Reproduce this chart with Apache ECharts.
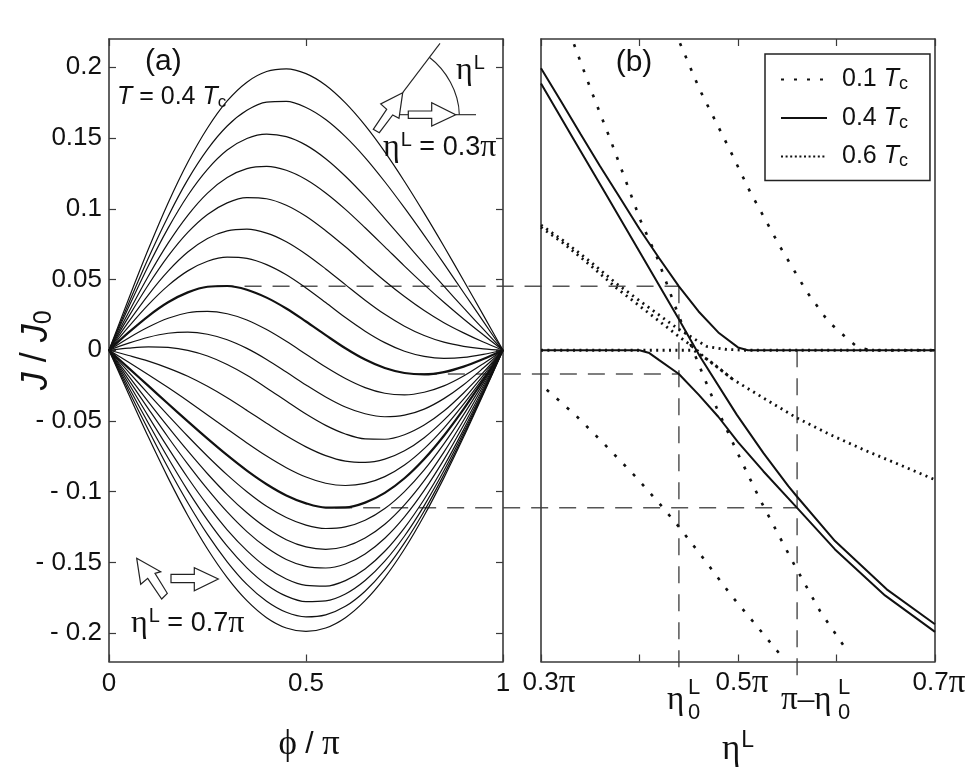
<!DOCTYPE html>
<html>
<head>
<meta charset="utf-8">
<style>html,body{margin:0;padding:0;background:#fff}#chart{width:977px;height:779px}</style>
<script src="https://cdn.jsdelivr.net/npm/echarts@6/dist/echarts.min.js"></script>
</head>
<body>
<div id="chart"></div>
<script>
// panel (a): phi / pi grid, one J(phi) list per eta value
const phi = [0,.05,.1,.15,.2,.25,.3,.35,.4,.45,.5,.55,.6,.65,.7,.75,.8,.85,.9,.95,1];
const J_30 = [0,.0364,.0715,.1041,.1329,.1571,.1762,.1895,.1970,.1989,.1955,.1873,.1748,.1589,.1402,.1193,.0969,.0735,.0493,.0248,0];
const J_32 = [0,.0332,.0652,.0946,.1206,.1420,.1585,.1696,.1754,.1759,.1716,.1631,.1510,.1362,.1191,.1006,.0812,.0612,.0408,.0204,0];
const J_34 = [0,.0305,.0597,.0863,.1094,.1279,.1415,.1497,.1528,.1510,.1450,.1354,.1230,.1087,.0931,.0771,.0610,.0453,.0299,.0149,0];
const J_36 = [0,.0269,.0525,.0757,.0954,.1111,.1221,.1284,.1300,.1272,.1207,.1112,.0996,.0866,.0731,.0595,.0464,.0339,.0221,.0109,0];
const J_38 = [0,.0238,.0463,.0665,.0833,.0960,.1042,.1079,.1071,.1025,.0947,.0845,.0731,.0609,.0490,.0380,.0281,.0195,.0123,.0058,0];
const J_40 = [0,.0202,.0392,.0559,.0694,.0790,.0844,.0856,.0828,.0767,.0679,.0575,.0464,.0354,.0254,.0170,.0104,.0057,.0028,.0010,0];
const J_42 = [0,.0167,.0323,.0457,.0561,.0629,.0658,.0649,.0605,.0533,.0440,.0337,.0231,.0135,.0054,-.0007,-.0043,-.0057,-.0051,-.0029,0];
const J_44 = [0,.0126,.0242,.0339,.0409,.0449,.0454,.0428,.0372,.0295,.0203,.0107,.0014,-.0066,-.0126,-.0161,-.0171,-.0155,-.0116,-.0062,0];
const J_46 = [0,.0087,.0164,.0226,.0265,.0275,.0258,.0214,.0146,.0063,-.0028,-.0119,-.0200,-.0264,-.0304,-.0315,-.0297,-.0252,-.0182,-.0095,0];
const J_48 = [0,.0050,.0092,.0120,.0128,.0113,.0074,.0013,-.0065,-.0154,-.0245,-.0330,-.0401,-.0449,-.0470,-.0459,-.0416,-.0342,-.0244,-.0126,0];
const J_50 = [0,.0015,.0024,.0020,-.0001,-.0041,-.0101,-.0177,-.0266,-.0359,-.0451,-.0531,-.0592,-.0627,-.0629,-.0597,-.0529,-.0430,-.0302,-.0157,0];
const J_52 = [0,-.0037,-.0077,-.0126,-.0184,-.0255,-.0336,-.0425,-.0516,-.0605,-.0683,-.0745,-.0784,-.0793,-.0770,-.0711,-.0618,-.0494,-.0345,-.0177,0];
const J_54 = [0,-.0085,-.0173,-.0264,-.0359,-.0457,-.0557,-.0655,-.0748,-.0830,-.0896,-.0940,-.0956,-.0941,-.0893,-.0811,-.0695,-.0550,-.0381,-.0195,0];
const J_56 = [0,-.0126,-.0252,-.0378,-.0503,-.0625,-.0742,-.0851,-.0947,-.1026,-.1082,-.1112,-.1111,-.1077,-.1008,-.0905,-.0769,-.0604,-.0416,-.0212,0];
const J_58 = [0,-.0154,-.0309,-.0460,-.0608,-.0749,-.0881,-.1000,-.1103,-.1182,-.1236,-.1260,-.1249,-.1202,-.1119,-.0999,-.0846,-.0662,-.0455,-.0232,0];
const J_60 = [0,-.0183,-.0365,-.0542,-.0712,-.0873,-.1020,-.1149,-.1257,-.1339,-.1390,-.1407,-.1387,-.1327,-.1230,-.1093,-.0922,-.0720,-.0495,-.0251,0];
const J_62 = [0,-.0209,-.0414,-.0615,-.0805,-.0982,-.1143,-.1282,-.1395,-.1479,-.1528,-.1539,-.1511,-.1440,-.1329,-.1178,-.0991,-.0773,-.0530,-.0269,0];
const J_64 = [0,-.0235,-.0467,-.0690,-.0901,-.1095,-.1269,-.1416,-.1534,-.1617,-.1662,-.1667,-.1628,-.1546,-.1421,-.1255,-.1053,-.0820,-.0561,-.0285,0];
const J_66 = [0,-.0261,-.0516,-.0762,-.0992,-.1201,-.1385,-.1538,-.1657,-.1738,-.1777,-.1772,-.1723,-.1628,-.1491,-.1313,-.1098,-.0852,-.0582,-.0295,0];
const J_68 = [0,-.0286,-.0564,-.0831,-.1078,-.1302,-.1495,-.1655,-.1774,-.1852,-.1884,-.1870,-.1810,-.1703,-.1553,-.1362,-.1136,-.0879,-.0600,-.0304,0];
const J_70 = [0,-.0311,-.0614,-.0902,-.1168,-.1405,-.1607,-.1770,-.1890,-.1963,-.1987,-.1963,-.1890,-.1770,-.1607,-.1405,-.1168,-.0902,-.0614,-.0311,0];
const thinCurves = [J_30,J_32,J_34,J_36,J_38,J_40,J_42,J_46,J_48,J_50,J_52,J_54,J_58,J_60,J_62,J_64,J_66,J_68,J_70];
const thickCurves = [J_44,J_56];

// panel (b): branches for each temperature, eta / pi on x
const eta10a = [.3335,.3515,.37,.4015,.4175,.4394,.4513,.4631,.4784,.5003,.5223,.5579,.5832,.612];
const val10a = [.2163,.1826,.1497,.0909,.0662,.0251,.0051,-.015,-.0408,-.0737,-.1055,-.1526,-.1843,-.2137];
const eta10b = [.4411,.4614,.4902,.5122,.5426,.5697,.5917,.6103,.6205,.634,.7];
const val10b = [.217,.1838,.1438,.1121,.0733,.0415,.0203,.0086,.0027,0,0];
const eta10c = [.3058,.3345,.3616,.3972,.4225,.4394,.4631,.4936,.519,.5426];
const val10c = [-.0279,-.0455,-.0644,-.0902,-.1102,-.1243,-.1455,-.1737,-.1949,-.2149];

const eta40max = [.3,.32,.34,.36,.38,.4,.42,.44,.46,.48,.5,.51,.7];
const val40max = [.1993,.1763,.153,.13,.108,.0857,.065,.0452,.0274,.0126,.002,0,0];
const eta40mid = [.3,.3328,.3667,.4039,.4394,.4614,.4987,.5257,.5511,.5596,.5985,.651,.7];
const val40mid = [.1886,.1495,.1093,.0651,.0227,-.0044,-.0455,-.0725,-.0961,-.1032,-.1349,-.169,-.1937];
const eta40min = [.3,.4,.41,.42,.44,.46,.48,.5,.5257,.56,.5985,.6492,.7];
const val40min = [0,0,-.002,-.007,-.0168,-.0314,-.047,-.065,-.0855,-.1114,-.1408,-.1733,-.1991];

const eta60max = [.3,.3226,.3497,.3768,.4073,.4378,.4581,.4682,.4868,.507,.7];
const val60max = [.0885,.0775,.0628,.047,.0313,.0158,.007,.0027,.0007,0,0];
const eta60mid = [.3,.3226,.3497,.3768,.4073,.4378,.4581,.4648,.4952,.5257,.5596,.5934,.6272,.6611,.7];
const val60mid = [.0869,.0757,.0603,.0439,.0274,.0109,.0003,-.0044,-.0208,-.0337,-.0478,-.0596,-.0702,-.0801,-.0915];
const eta60min = [.3,.455,.475,.4952];
const val60min = [0,0,-.0095,-.0208];

// dashed guides: start on a curve in (a), run across the gap into (b)
const guidePhi = [.273,.789,.574];
const guideJ = [.0452,-.0168,-.1114];
const guideEta = [.44,.44,.56];
const dropTop = [.0452,0];
const dropEta = [.44,.56];
const dropEnd = -.2315;

const yTicks = [-.2,-.15,-.1,-.05,0,.05,.1,.15,.2];
const yTickLabels = ['- 0.2','- 0.15','- 0.1','- 0.05','0','0.05','0.1','0.15','0.2'];
const xTicksA = [0,.5,1];
const xTickLabelsA = ['0','0.5','1'];
const xTicksB = [.3,.4,.5,.6,.7];
const xLabelsB = [.3,.5,.7];

const SANS = '"Liberation Sans", Arial, sans-serif';
const SERIF = '"Liberation Serif", serif';
const INK = '#111';
const FRAME = '#3a3a3a';

const pairs = (xs, ys) => xs.map((x, i) => [x, ys[i]]);

function lineOf(xs, ys, gi, opt) {
  return Object.assign({
    type: 'line', xAxisIndex: gi * 2, yAxisIndex: gi * 2,
    data: pairs(xs, ys), symbol: 'none', silent: true,
    itemStyle: { color: INK },
    lineStyle: { color: INK, width: 1.2 }
  }, opt);
}

const series = [];
thinCurves.forEach((c) => series.push(lineOf(phi, c, 0, { smooth: .33 })));
thickCurves.forEach((c) => series.push(lineOf(phi, c, 0, { smooth: .33, lineStyle: { color: INK, width: 2.2 } })));

const style10 = { color: INK, width: 2.6, type: [3, 10.4] };
const style40 = { color: INK, width: 2 };
const style60 = { color: INK, width: 2.8, type: [2, 4.4] };
[[eta10a, val10a], [eta10b, val10b], [eta10c, val10c]].forEach((b) =>
  series.push(lineOf(b[0], b[1], 1, { name: '0.1Tc', lineStyle: style10 })));
[[eta40max, val40max], [eta40mid, val40mid], [eta40min, val40min]].forEach((b) =>
  series.push(lineOf(b[0], b[1], 1, { name: '0.4Tc', lineStyle: style40 })));
[[eta60max, val60max], [eta60mid, val60mid], [eta60min, val60min]].forEach((b) =>
  series.push(lineOf(b[0], b[1], 1, { name: '0.6Tc', lineStyle: style60 })));

function valueX(gi, pos, min, max, ticks, labels) {
  return {
    type: 'value', gridIndex: gi, position: pos, min: min, max: max,
    splitLine: { show: false }, axisLine: { onZero: false, lineStyle: { color: FRAME, width: 1.6 } },
    axisTick: { inside: true, length: 7, customValues: ticks, lineStyle: { color: FRAME, width: 1.2 } },
    axisLabel: labels || { show: false }
  };
}
function valueY(gi, pos, ticks, labels) {
  return {
    type: 'value', gridIndex: gi, position: pos, min: -.22, max: .22,
    splitLine: { show: false }, axisLine: { onZero: false, lineStyle: { color: FRAME, width: 1.6 } },
    axisTick: { show: !!ticks, inside: true, length: 7, customValues: ticks || [], lineStyle: { color: FRAME, width: 1.2 } },
    axisLabel: labels || { show: false }
  };
}

const tickFont = { fontFamily: SANS, fontSize: 26, color: INK };

const xBottomA = valueX(0, 'bottom', 0, 1, xTicksA, Object.assign({
  margin: 9, customValues: xTicksA,
  formatter: (v) => xTickLabelsA[xTicksA.indexOf(v)]
}, tickFont));
xBottomA.name = '{p|ϕ}{n| / }{p|π}';
xBottomA.nameLocation = 'middle';
xBottomA.nameGap = 66;
xBottomA.nameTextStyle = { padding: [0, 0, 0, 6], rich: {
  p: { fontFamily: SERIF, fontSize: 35, color: INK },
  n: { fontFamily: SANS, fontSize: 30, color: INK }
} };

const xBottomB = valueX(1, 'bottom', .3, .7, xTicksB, {
  margin: 5, customValues: xLabelsB,
  formatter: (v) => '{' + (v === .3 ? 'm' : 'n') + '|' + v.toFixed(1) + '}{p|π}',
  rich: {
    n: Object.assign({ padding: [0, 0, 0, 8] }, tickFont),
    m: Object.assign({ padding: [0, 0, 0, 16] }, tickFont),
    p: { fontFamily: SERIF, fontSize: 33, color: INK }
  }
});
xBottomB.name = '{e|η}{l|L}';
xBottomB.nameLocation = 'middle';
xBottomB.nameGap = 68;
xBottomB.nameTextStyle = { rich: {
  e: { fontFamily: SERIF, fontSize: 35, color: INK },
  l: { fontFamily: SANS, fontSize: 23, color: INK, padding: [0, 0, 18, 1] }
} };

const yLeftA = valueY(0, 'left', yTicks, Object.assign({
  margin: 7, customValues: yTicks,
  formatter: (v) => yTickLabels[yTicks.indexOf(v)]
}, tickFont));
yLeftA.name = '{j|J}{n| / }{j|J}{s|0}';
yLeftA.nameLocation = 'middle';
yLeftA.nameGap = 52;
yLeftA.nameRotate = 90;
yLeftA.nameMoveOverlap = false;
yLeftA.nameTextStyle = { rich: {
  j: { fontFamily: SANS, fontSize: 36, fontStyle: 'italic', color: INK },
  n: { fontFamily: SANS, fontSize: 36, color: INK },
  s: { fontFamily: SANS, fontSize: 25, color: INK, padding: [16, 0, 0, 0] }
} };

// annotation helpers, the little sketch and text inside the panels
const txt = (x, y, text, size, family, extra) => ({
  type: 'text', z: 30, silent: true,
  style: Object.assign({ x: x, y: y, text: text, fontSize: size, fontFamily: family, fill: INK, textVerticalAlign: 'middle' }, extra || {})
});
const arrow = (points) => ({
  type: 'polygon', z: 30, silent: true, shape: { points: points },
  style: { fill: '#fff', stroke: '#222', lineWidth: 1.2 }
});
const stroke = (x1, y1, x2, y2) => ({
  type: 'line', z: 29, silent: true, shape: { x1: x1, y1: y1, x2: x2, y2: y2 },
  style: { stroke: '#222', lineWidth: 1.1 }
});
const etaRich = {
  e: { fontFamily: SERIF, fontSize: 32, fill: INK },
  l: { fontFamily: SANS, fontSize: 20, fill: INK, padding: [0, 0, 15, 1] },
  n: { fontFamily: SANS, fontSize: 27, fill: INK }
};

const annotations = [
  txt(145, 62, '(a)', 30, SANS),
  txt(634, 63, '(b)', 30, SANS, { textAlign: 'center' }),
  txt(117, 97, '{t|T}{n| = 0.4 }{t|T}{c|c}', 25, SANS, { rich: {
    t: { fontFamily: SANS, fontSize: 25, fontStyle: 'italic', fill: INK },
    n: { fontFamily: SANS, fontSize: 25, fill: INK },
    c: { fontFamily: SANS, fontSize: 17, fill: INK, padding: [10, 0, 0, 0] }
  } }),
  txt(383, 148, '{e|η}{l|L}{n| = 0.3}{e|π}', 25, SANS, { rich: etaRich }),
  txt(131, 624, '{e|η}{l|L}{n| = 0.7}{e|π}', 25, SANS, { rich: etaRich }),
  txt(456, 71, '{e|η}{l|L}', 25, SANS, { rich: etaRich }),
  stroke(402.7, 92.7, 440, 43.3),
  stroke(399, 114.7, 408, 114.7),
  stroke(455.7, 114.7, 476, 114.7),
  { type: 'bezierCurve', z: 29, silent: true,
    shape: { x1: 429.3, y1: 57.3, cpx1: 446, cpy1: 70, cpx2: 459, cpy2: 92, x2: 459.3, y2: 114.7 },
    style: { stroke: '#222', lineWidth: 1.1, fill: 'none' } },
  arrow([[402.7,92.7],[380.7,104],[386.7,109.3],[373.3,129.3],[379.3,132.7],[392.7,115],[399,118.3]]),
  arrow([[408.3,111],[431.7,111],[431.7,102.7],[455.7,114.7],[431.7,126],[431.7,118.3],[408.3,118.3]]),
  arrow([[136.7,558.3],[160.7,571.7],[155,573.3],[167.3,593.3],[161.7,599],[147.7,578.3],[140.7,584.3]]),
  arrow([[171,574.3],[194.3,574.3],[194.3,567.7],[218.3,579],[194.3,590.7],[194.3,582.7],[171,582.7]]),
  txt(667, 700, 'η', 33, SERIF),
  txt(688, 688, 'L', 22, SANS),
  txt(688, 713, '0', 22, SANS),
  txt(781, 700, 'π–η', 33, SERIF),
  txt(838, 688, 'L', 22, SANS),
  txt(838, 713, '0', 22, SANS)
];

const chart = echarts.init(document.getElementById('chart'), null, { renderer: 'canvas' });
const option = {
  animation: false,
  backgroundColor: '#fff',
  grid: [
    { left: 109, top: 39, width: 394, height: 622.5, outerBoundsMode: 'none' },
    { left: 541, top: 39, width: 394, height: 622.5, outerBoundsMode: 'none' }
  ],
  xAxis: [
    xBottomA,
    valueX(0, 'top', 0, 1, xTicksA),
    xBottomB,
    valueX(1, 'top', .3, .7, xTicksB)
  ],
  yAxis: [
    yLeftA,
    valueY(0, 'right', yTicks),
    valueY(1, 'left'),
    valueY(1, 'right')
  ],
  legend: {
    orient: 'vertical', left: 765, top: 54, z: 20,
    padding: [13, 22, 10, 15],
    itemWidth: 46, itemHeight: 14, itemGap: 12,
    backgroundColor: '#fff', borderColor: '#222', borderWidth: 1.5, borderRadius: 0,
    selectedMode: false,
    itemStyle: { color: 'transparent', borderWidth: 0, opacity: 0 },
    data: [
      { name: '0.1Tc', lineStyle: { type: [3, 10] } },
      { name: '0.4Tc' },
      { name: '0.6Tc', lineStyle: { type: [2, 2.6] } }
    ],
    formatter: (name) => '{n|' + name.slice(0, 3) + ' }{t|T}{c|c}',
    textStyle: { rich: {
      n: { fontFamily: SANS, fontSize: 25, color: INK, padding: [0, 0, 0, 10] },
      t: { fontFamily: SANS, fontSize: 25, fontStyle: 'italic', color: INK },
      c: { fontFamily: SANS, fontSize: 18, color: INK, padding: [10, 0, 0, 0] }
    } }
  },
  series: series
};
chart.setOption(option);

// guides go through both panels, so place them from the axes once those exist
const guideStyle = { stroke: '#555', lineWidth: 1.5, lineDash: [17, 11] };
const toA = (p) => chart.convertToPixel({ xAxisIndex: 0, yAxisIndex: 0 }, p);
const toB = (p) => chart.convertToPixel({ xAxisIndex: 2, yAxisIndex: 2 }, p);
const guides = [];
guidePhi.forEach((p, i) => {
  const from = toA([p, guideJ[i]]);
  const to = toB([guideEta[i], guideJ[i]]);
  guides.push({ type: 'line', silent: true, shape: { x1: from[0], y1: from[1], x2: to[0], y2: to[1] }, style: guideStyle });
});
dropEta.forEach((e, i) => {
  const from = toB([e, dropTop[i]]);
  const to = toB([e, dropEnd]);
  guides.push({ type: 'line', silent: true, shape: { x1: from[0], y1: from[1], x2: to[0], y2: to[1] }, style: guideStyle });
});
chart.setOption({ graphic: guides.concat(annotations) });
</script>
</body>
</html>
